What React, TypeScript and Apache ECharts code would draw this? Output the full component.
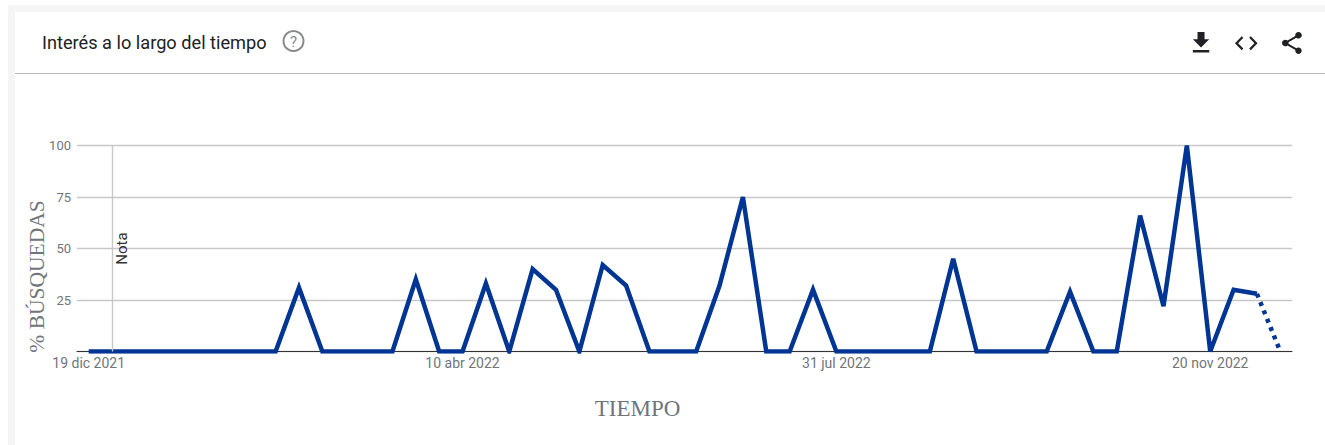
import React, { useEffect, useRef } from "react";
import * as echarts from "echarts";

const weeks = [
  "19 dic 2021", "26 dic 2021", "2 ene 2022", "9 ene 2022", "16 ene 2022", "23 ene 2022", "30 ene 2022",
  "6 feb 2022", "13 feb 2022", "20 feb 2022", "27 feb 2022", "6 mar 2022", "13 mar 2022", "20 mar 2022",
  "27 mar 2022", "3 abr 2022", "10 abr 2022", "17 abr 2022", "24 abr 2022", "1 may 2022", "8 may 2022",
  "15 may 2022", "22 may 2022", "29 may 2022", "5 jun 2022", "12 jun 2022", "19 jun 2022", "26 jun 2022",
  "3 jul 2022", "10 jul 2022", "17 jul 2022", "24 jul 2022", "31 jul 2022", "7 ago 2022", "14 ago 2022",
  "21 ago 2022", "28 ago 2022", "4 sept 2022", "11 sept 2022", "18 sept 2022", "25 sept 2022", "2 oct 2022",
  "9 oct 2022", "16 oct 2022", "23 oct 2022", "30 oct 2022", "6 nov 2022", "13 nov 2022", "20 nov 2022",
  "27 nov 2022", "4 dic 2022", "11 dic 2022",
];
const shownLabels = ["19 dic 2021", "10 abr 2022", "31 jul 2022", "20 nov 2022"];
const noteWeek = "26 dic 2021";

const solidValues = [
  0, 0, 0, 0, 0, 0, 0, 0, 0, 31, 0, 0, 0, 0, 35, 0, 0, 33, 0, 40, 30, 0, 42, 32, 0, 0,
  0, 32, 75, 0, 0, 30, 0, 0, 0, 0, 0, 45, 0, 0, 0, 0, 29, 0, 0, 66, 22, 100, 0, 30, 28, null,
];
const dottedValues = [
  null, null, null, null, null, null, null, null, null, null, null, null, null, null, null, null, null, null, null, null, null, null, null, null, null, null,
  null, null, null, null, null, null, null, null, null, null, null, null, null, null, null, null, null, null, null, null, null, null, null, null, 28, 0,
];

const LINE = "#003594";
const GREY = "#70757a";

const ICON_DOWNLOAD = "M19 9h-4V3H9v6H5l7 7 7-7zM5 18v2h14v-2H5z";
const ICON_CODE = "M9.4 16.6L4.8 12l4.6-4.6L8 6l-6 6 6 6 1.4-1.4zm5.2 0l4.6-4.6-4.6-4.6L16 6l6 6-6 6-1.4-1.4z";
const ICON_SHARE = "M18 16.08c-.76 0-1.44.3-1.96.77L8.91 12.7c.05-.23.09-.46.09-.7s-.04-.47-.09-.7l7.05-4.11c.54.5 1.25.81 2.04.81 1.66 0 3-1.34 3-3s-1.34-3-3-3-3 1.34-3 3c0 .24.04.47.09.7L8.04 9.81C7.5 9.31 6.79 9 6 9c-1.66 0-3 1.34-3 3s1.34 3 3 3c.79 0 1.5-.31 2.04-.81l7.12 4.16c-.05.21-.08.43-.08.65 0 1.61 1.31 2.92 2.92 2.92 1.61 0 2.92-1.31 2.92-2.92s-1.31-2.92-2.92-2.92z";

echarts.graphic.registerShape("iconDownload", echarts.graphic.extendPath(ICON_DOWNLOAD as any, {}) as any);
echarts.graphic.registerShape("iconCode", echarts.graphic.extendPath(ICON_CODE as any, {}) as any);
echarts.graphic.registerShape("iconShare", echarts.graphic.extendPath(ICON_SHARE as any, {}) as any);

export default function App() {
  const ref = useRef<HTMLDivElement>(null);
  useEffect(() => {
    const chart = echarts.init(ref.current!, null, { renderer: "svg" });
    chart.setOption({
      animation: false,
      backgroundColor: "#ffffff",
      grid: { left: 77, right: 33, top: 145.5, height: 206, containLabel: false },
      xAxis: {
        type: "category",
        data: weeks,
        boundaryGap: true,
        name: "TIEMPO",
        nameLocation: "middle",
        nameGap: 45,
        nameMoveOverlap: false,
        nameTextStyle: { fontFamily: "Liberation Serif", fontSize: 23, color: GREY, padding: [0, 94, 0, 0] },
        axisLine: { show: true, lineStyle: { color: "#333333", width: 1.2 } },
        axisTick: { show: false },
        axisLabel: {
          show: true,
          margin: 4,
          fontFamily: "Roboto",
          fontSize: 14,
          color: GREY,
          hideOverlap: false,
          interval: (_i: number, v: string) => shownLabels.includes(v),
        },
        splitLine: { show: false },
      },
      yAxis: {
        type: "value",
        min: 0,
        max: 100,
        interval: 25,
        name: "% BÚSQUEDAS",
        nameLocation: "middle",
        nameGap: 29,
        nameMoveOverlap: false,
        nameTextStyle: { fontFamily: "Liberation Serif", fontSize: 21.5, color: GREY, padding: [0, 56, 0, 0] },
        axisLine: { show: false },
        axisTick: { show: false },
        axisLabel: {
          margin: 6,
          fontFamily: "Roboto",
          fontSize: 13,
          color: GREY,
          formatter: (v: number) => (v === 0 ? "" : String(v)),
        },
        splitLine: { show: true, lineStyle: { color: "#c8c8c8", width: 1.4 } },
      },
      series: [
        {
          type: "line",
          name: "Interés",
          data: solidValues,
          showSymbol: false,
          symbol: "none",
          z: 3,
          lineStyle: { color: LINE, width: 4.5, join: "miter", cap: "butt" },
          markLine: {
            silent: true,
            symbol: "none",
            animation: false,
            lineStyle: { color: "#c8c8c8", width: 1.4, type: "solid" },
            label: {
              show: true,
              formatter: "Nota",
              position: "middle",
              distance: -17,
              fontFamily: "Roboto",
              fontSize: 15,
              color: "#333333",
            },
            data: [{ xAxis: noteWeek }],
          },
        },
        {
          type: "line",
          name: "Parcial",
          data: dottedValues,
          showSymbol: false,
          symbol: "none",
          z: 3,
          lineStyle: { color: LINE, width: 4.5, type: [4, 5] },
        },
      ],
      graphic: [
        { type: "rect", silent: true, shape: { x: 8, y: 5, width: 1317, height: 7 }, style: { fill: "#f5f5f5" } },
        { type: "rect", silent: true, shape: { x: 8, y: 5, width: 7, height: 440 }, style: { fill: "#f5f5f5" } },
        { type: "rect", silent: true, shape: { x: 15, y: 73, width: 1310, height: 1 }, style: { fill: "#bdbdbd" } },
        {
          type: "text",
          x: 42,
          y: 42,
          style: {
            text: "Interés a lo largo del tiempo",
            fontFamily: "Roboto",
            fontSize: 18.2,
            fill: "#202124",
            verticalAlign: "middle",
          },
        },
        {
          type: "circle",
          shape: { cx: 293.5, cy: 41, r: 10 },
          style: { fill: "none", stroke: "#8a8a8a", lineWidth: 2 },
        },
        {
          type: "text",
          x: 293.5,
          y: 41.5,
          style: {
            text: "?",
            fontFamily: "Roboto",
            fontSize: 15,
            fill: "#8a8a8a",
            align: "center",
            verticalAlign: "middle",
          },
        },
        { type: "iconDownload", x: 1187, y: 28.4, scaleX: 1.17, scaleY: 1.2, style: { fill: "#202124" } },
        { type: "iconCode", x: 1232.7, y: 29.2, scaleX: 1.13, scaleY: 1.17, style: { fill: "#202124" } },
        { type: "iconShare", x: 1278.7, y: 29.8, scaleX: 1.1, scaleY: 1.1, style: { fill: "#202124" } },
      ],
    });
    return () => chart.dispose();
  }, []);
  return (
    <div
      ref={ref}
      style={{ position: "absolute", left: 0, top: 0, width: 1325, height: 445, background: "#ffffff" }}
    />
  );
}
